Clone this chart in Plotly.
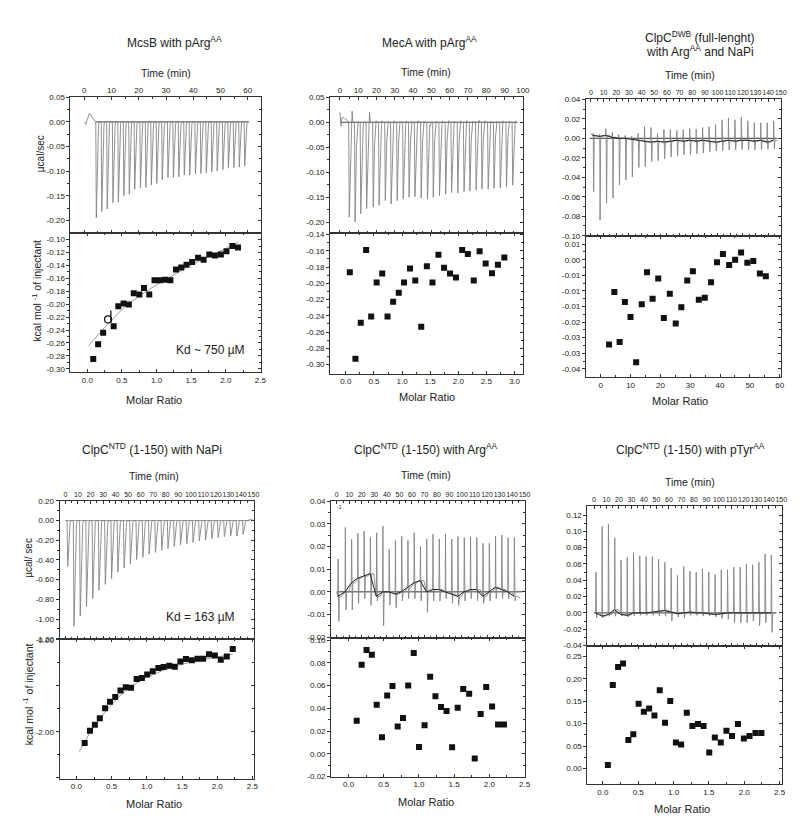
import plotly.graph_objects as go

W, H = 800, 823
FONT = "Liberation Sans, Arial, Helvetica, sans-serif"
LC = "#333333"
TC = "#222222"
SPIKE = "#858585"

# ---------------- DATA ----------------
# Panel 1 : McsB with pArgAA
p1_lead_t = [0.0, 0.5, 1.0, 1.9, 3.0, 4.0]
p1_lead_v = [0.0, -0.005, 0.004, 0.018, 0.008, 0.0]
p1_inj_t = [4.2, 6.2, 8.2, 10.3, 12.3, 14.3, 16.3, 18.3, 20.4, 22.4,
            24.4, 26.4, 28.4, 30.5, 32.5, 34.5, 36.5, 38.5, 40.6, 42.6,
            44.6, 46.6, 48.6, 50.7, 52.7, 54.7, 56.7, 58.7]
p1_peak = [-0.195, -0.182, -0.177, -0.164, -0.163, -0.150, -0.147, -0.137, -0.134, -0.133,
           -0.128, -0.125, -0.117, -0.113, -0.113, -0.112, -0.108, -0.108, -0.105, -0.105,
           -0.104, -0.102, -0.100, -0.097, -0.094, -0.093, -0.092, -0.090]
p1_tail_t = [60.2]
p1_tail_v = [0.002]
p1_base_t = [4.0, 60.5]
p1_ratio = [0.086, 0.157, 0.229, 0.381, 0.448, 0.524, 0.600, 0.671, 0.752, 0.819,
            0.895, 0.971, 1.048, 1.124, 1.200, 1.281, 1.357, 1.433, 1.514, 1.600,
            1.680, 1.762, 1.843, 1.929, 2.010, 2.095, 2.176]
p1_heat = [-0.285, -0.262, -0.244, -0.234, -0.203, -0.199, -0.2005, -0.183, -0.185, -0.175,
           -0.185, -0.163, -0.163, -0.162, -0.163, -0.1464, -0.143, -0.139, -0.1347, -0.128,
           -0.131, -0.123, -0.1245, -0.123, -0.118, -0.110, -0.112]
p1_out_ratio = [0.30]
p1_out_heat = [-0.2235]
p1_fit_ratio = [0.02, 0.25, 0.5, 0.75, 1.0, 1.25, 1.5, 1.75, 2.0, 2.18]
p1_fit_heat = [-0.264, -0.236, -0.208, -0.187, -0.170, -0.154, -0.139, -0.126, -0.114, -0.104]

# Panel 2 : MecA with pArgAA
p2_lead_t = [0.0, 0.7, 1.2, 2.5, 4.0]
p2_lead_v = [0.02, -0.008, 0.010, 0.008, 0.004]
p2_inj_t = [4.8, 8.0, 11.1, 14.3, 17.9, 21.1, 24.5, 27.7, 31.0, 34.3,
            37.5, 40.7, 44.1, 47.5, 50.7, 54.1, 57.5, 60.7, 64.1, 67.5,
            70.7, 74.1, 77.3, 80.7, 83.9, 87.3, 90.7, 94.1]
p2_peak = [-0.190, -0.200, -0.183, -0.173, -0.170, -0.166, -0.157, -0.164, -0.157, -0.154,
           -0.150, -0.149, -0.152, -0.154, -0.150, -0.147, -0.144, -0.141, -0.142, -0.139,
           -0.138, -0.136, -0.134, -0.134, -0.132, -0.132, -0.129, -0.126]
p2_after = [0.022, 0.0, 0.0, 0.020, 0.003, 0.003, 0.002, 0.003, 0.002, 0.002,
            0.002, 0.003, 0.002, -0.008, 0.002, 0.003, 0.003, 0.002, 0.003, 0.003,
            0.002, 0.004, 0.003, 0.002, 0.002, 0.003, 0.002, 0.002]
p2_tail_t = [97.0]
p2_tail_v = [0.0]
p2_base_t = [0.0, 97.0]
p2_ratio = [0.07, 0.17, 0.265, 0.36, 0.45, 0.547, 0.647, 0.741, 0.841, 0.941,
            1.035, 1.141, 1.235, 1.341, 1.441, 1.541, 1.647, 1.747, 1.853, 1.959,
            2.07, 2.17, 2.276, 2.38, 2.488, 2.6, 2.706, 2.82]
p2_heat = [-0.1864, -0.2928, -0.2485, -0.1592, -0.241, -0.199, -0.188, -0.2408, -0.2228, -0.2115,
           -0.199, -0.1819, -0.1965, -0.2536, -0.1791, -0.199, -0.165, -0.181, -0.188, -0.193,
           -0.159, -0.164, -0.1965, -0.1605, -0.1758, -0.1876, -0.1771, -0.1682]

# Panel 3 : ClpC DWB (full-length) with ArgAA and NaPi
p3_lead_t = [0.0]
p3_lead_v = [0.005]
p3_inj_t = [1.3, 6.4, 11.5, 16.6, 21.7, 26.8, 31.9, 37.0, 42.1, 47.2,
            52.3, 57.4, 62.5, 67.6, 72.7, 77.8, 82.9, 88.0, 93.1, 98.2,
            103.3, 108.4, 113.5, 118.6, 123.7, 128.8, 133.9, 139.0, 144.1]
p3_up = [0.005, 0.004, 0.010, 0.006, 0.004, 0.003, 0.002, 0.005, 0.012, 0.011,
         0.005, 0.009, 0.009, 0.008, 0.009, 0.010, 0.009, 0.011, 0.012, 0.014,
         0.019, 0.021, 0.019, 0.022, 0.018, 0.016, 0.016, 0.016, 0.018]
p3_down = [-0.0547, -0.084, -0.0665, -0.0615, -0.048, -0.043, -0.0395, -0.030, -0.029, -0.024,
           -0.023, -0.021, -0.019, -0.018, -0.017, -0.0165, -0.016, -0.015, -0.014, -0.013,
           -0.0125, -0.012, -0.012, -0.0115, -0.012, -0.012, -0.0115, -0.011, -0.011]
p3_base = [0.003, 0.002, 0.003, 0.001, 0.0, 0.0, -0.001, -0.002, -0.003, -0.004,
           -0.003, -0.004, -0.003, -0.002, -0.003, -0.002, -0.003, -0.002, -0.003, -0.004,
           -0.003, -0.002, -0.003, -0.002, -0.002, -0.003, -0.002, -0.004, -0.002]
p3_tail_t = [147.0]
p3_tail_v = [-0.002]
p3_base_t = [-1.0, 147.0]
p3_ratio = [2.77, 4.54, 6.31, 8.08, 9.96, 11.85, 13.73, 15.5, 17.38, 19.26,
            21.14, 23.14, 25.13, 27.01, 29.0, 30.89, 32.88, 34.87, 36.98, 38.97,
            40.96, 43.06, 45.06, 47.05, 49.15, 51.15, 53.36, 55.35]
p3_heat = [-0.02715, -0.01038, -0.02641, -0.01357, -0.01834, -0.03288, -0.01431, -0.00402, -0.01251, -0.00604,
           -0.01866, -0.01091, -0.02046, -0.01526, -0.00668, -0.00371, -0.01283, -0.01219, -0.00721, -0.00084,
           0.00181, -0.00170, 0.0, 0.00235, -0.00095, -0.00042, -0.00445, -0.00530]
p3_by_vals = [0.005, 0.0, -0.005, -0.010, -0.015, -0.020, -0.025, -0.030, -0.035]
p3_by_text = ["0.01", "0.00", "-0.01", "-0.01", "-0.01", "-0.02", "-0.03", "-0.03", "-0.04"]

# Panel 4 : ClpC NTD (1-150) with NaPi
p4_lead_t = [0.0]
p4_lead_v = [0.0]
p4_inj_t = [1.3, 6.3, 11.3, 16.3, 21.3, 26.3, 31.3, 36.3, 41.3, 46.3,
            51.3, 56.3, 61.3, 66.3, 71.3, 76.3, 81.3, 86.3, 91.3, 96.3,
            101.3, 106.3, 111.3, 116.3, 121.3, 126.3, 131.3, 136.3, 141.3]
p4_peak = [-0.467, -1.073, -0.967, -0.873, -0.790, -0.707, -0.647, -0.590, -0.523, -0.480,
           -0.440, -0.397, -0.373, -0.340, -0.323, -0.300, -0.283, -0.263, -0.247, -0.233,
           -0.223, -0.207, -0.197, -0.183, -0.173, -0.163, -0.157, -0.157, -0.140]
p4_tail_t = [145.5, 147.0, 150.0]
p4_tail_v = [0.0, 0.01, 0.005]
p4_base_t = [0.0, 147.0]
p4_ratio = [0.117, 0.192, 0.262, 0.332, 0.407, 0.477, 0.551, 0.626, 0.701, 0.776,
            0.855, 0.93, 1.005, 1.084, 1.164, 1.238, 1.318, 1.397, 1.477, 1.556,
            1.64, 1.72, 1.8, 1.883, 1.967, 2.051, 2.136, 2.22]
p4_heat = [-2.245, -1.978, -1.849, -1.705, -1.489, -1.345, -1.245, -1.101, -1.029, -1.043,
           -0.849, -0.827, -0.755, -0.683, -0.612, -0.590, -0.561, -0.583, -0.468, -0.417,
           -0.439, -0.410, -0.410, -0.309, -0.338, -0.432, -0.360, -0.194]
p4_fit_ratio = [0.04, 0.2, 0.4, 0.6, 0.8, 1.0, 1.25, 1.5, 1.75, 2.0, 2.22]
p4_fit_heat = [-2.43, -2.0, -1.58, -1.24, -0.99, -0.81, -0.65, -0.53, -0.44, -0.37, -0.31]

# Panel 5 : ClpC NTD (1-150) with ArgAA
p5_lead_t = [0.0]
p5_lead_v = [0.0]
p5_inj_t = [0.8, 6.6, 11.6, 16.6, 21.6, 26.6, 31.6, 36.6, 41.6, 46.6,
            51.6, 56.6, 61.6, 66.6, 71.6, 76.6, 81.6, 86.6, 91.6, 96.6,
            101.6, 106.6, 111.6, 116.6, 121.6, 126.6, 131.6, 136.6, 141.6]
p5_up = [0.0145, 0.0284, 0.0232, 0.0258, 0.0267, 0.024, 0.026, 0.029, 0.0186, 0.0226,
         0.0246, 0.0226, 0.026, 0.020, 0.0232, 0.0254, 0.0233, 0.0255, 0.0232, 0.0243,
         0.0239, 0.0243, 0.0239, 0.0214, 0.0214, 0.0246, 0.025, 0.0239, 0.0239]
p5_down = [-0.013, -0.008, -0.008, -0.005, -0.003, -0.006, -0.004, -0.015, -0.006, -0.007,
           -0.004, -0.003, -0.003, -0.004, -0.009, -0.004, -0.004, -0.003, -0.005, -0.006,
           -0.004, -0.003, -0.004, -0.005, -0.004, -0.003, -0.003, -0.003, -0.004]
p5_base = [-0.002, 0.0, 0.004, 0.006, 0.007, 0.008, -0.002, 0.0, 0.0, -0.001,
           0.0, 0.002, 0.004, 0.005, 0.0, 0.001, 0.001, 0.0, -0.001, -0.002,
           0.0, 0.001, 0.001, -0.002, 0.0, 0.002, 0.001, 0.0, -0.002]
p5_tail_t = [146.5]
p5_tail_v = [-0.003]
p5_base_t = [0.0, 148.0]
p5_ratio = [0.116, 0.186, 0.256, 0.331, 0.40, 0.475, 0.549, 0.624, 0.698, 0.773,
            0.847, 0.926, 1.001, 1.08, 1.159, 1.234, 1.313, 1.392, 1.471, 1.55,
            1.629, 1.713, 1.792, 1.876, 1.955, 2.039, 2.123, 2.207]
p5_heat = [0.0290, 0.0783, 0.0913, 0.0872, 0.0432, 0.0145, 0.0513, 0.0597, 0.0241, 0.0316,
           0.0600, 0.0887, 0.0061, 0.0252, 0.0678, 0.0507, 0.0412, 0.0377, 0.0058, 0.0406,
           0.0571, 0.0528, -0.0041, 0.0351, 0.0588, 0.0417, 0.0258, 0.0258]

# Panel 6 : ClpC NTD (1-150) with pTyrAA
p6_lead_t = [0.0]
p6_lead_v = [0.0]
p6_inj_t = [1.3, 6.3, 11.3, 16.4, 21.4, 26.4, 31.4, 36.4, 41.5, 46.5,
            51.5, 56.5, 61.5, 66.6, 71.6, 76.6, 81.6, 86.6, 91.7, 96.7,
            101.7, 106.7, 111.7, 116.8, 121.8, 126.8, 131.8, 136.8, 141.8]
p6_up = [0.050, 0.106, 0.109, 0.092, 0.065, 0.068, 0.074, 0.070, 0.069, 0.069,
         0.066, 0.062, 0.055, 0.046, 0.057, 0.051, 0.050, 0.054, 0.050, 0.047,
         0.053, 0.053, 0.056, 0.056, 0.060, 0.059, 0.062, 0.072, 0.071]
p6_down = [-0.006, -0.006, -0.004, -0.004, -0.004, -0.005, -0.004, -0.003, -0.003, -0.003,
           -0.004, -0.004, -0.010, -0.005, -0.006, -0.003, -0.003, -0.004, -0.004, -0.005,
           -0.007, -0.008, -0.012, -0.012, -0.012, -0.010, -0.016, -0.012, -0.024]
p6_base = [0.0, -0.004, -0.002, 0.004, -0.002, -0.003, 0.0, 0.0, 0.0, 0.001,
           0.002, 0.003, 0.001, -0.001, 0.0, 0.001, 0.0, 0.0, -0.001, -0.002,
           -0.001, 0.0, 0.0, 0.0, 0.0, 0.0, 0.0, 0.0, 0.0]
p6_tail_t = [146.0]
p6_tail_v = [0.0]
p6_base_t = [0.0, 146.0]
p6_ratio = [0.07, 0.14, 0.215, 0.285, 0.36, 0.43, 0.505, 0.579, 0.654, 0.729,
            0.804, 0.879, 0.953, 1.033, 1.107, 1.187, 1.266, 1.346, 1.425, 1.505,
            1.584, 1.668, 1.748, 1.827, 1.911, 1.995, 2.075, 2.159, 2.243]
p6_heat = [0.0078, 0.186, 0.2265, 0.2343, 0.0634, 0.0762, 0.1446, 0.1268, 0.1339, 0.1182,
           0.1745, 0.1019, 0.1503, 0.0577, 0.0534, 0.1246, 0.0947, 0.0990, 0.0947, 0.0356,
           0.0691, 0.0577, 0.0840, 0.0726, 0.0990, 0.0670, 0.0726, 0.0790, 0.0790]

# Tick values
t60 = [0, 10, 20, 30, 40, 50, 60]
t100 = [0, 10, 20, 30, 40, 50, 60, 70, 80, 90, 100]
t150 = [0, 10, 20, 30, 40, 50, 60, 70, 80, 90, 100, 110, 120, 130, 140, 150]
mr25 = [0.0, 0.5, 1.0, 1.5, 2.0, 2.5]
mr30 = [0.0, 0.5, 1.0, 1.5, 2.0, 2.5, 3.0]
mr60 = [0, 10, 20, 30, 40, 50, 60]

# ---------------- helpers ----------------
def fmt(v, nd):
    s = f"{v:.{nd}f}"
    if float(s) == 0:
        s = f"{0:.{nd}f}"
    return s


def mids(v):
    s = sorted(v)
    return [(s[i] + s[i + 1]) / 2 for i in range(len(s) - 1)]


def dx(a, b):
    return [a / W, b / W]


def dy(a, b):
    return [1 - b / H, 1 - a / H]


def spikes_down(lead_t, lead_v, inj_t, peak, after, interval, tail_t, tail_v):
    xs, ys = list(lead_t), list(lead_v)
    for i, t in enumerate(inj_t):
        h = peak[i]
        a = after[i] if after else 0.0
        xs += [t, t + 0.10 * interval, t + 0.33 * interval, t + 0.50 * interval,
               t + 0.58 * interval, t + 0.72 * interval]
        ys += [0.0, h, 0.25 * h, 0.04 * h, a, 0.0]
    xs += list(tail_t)
    ys += list(tail_v)
    return xs, ys


def spikes_updown(lead_t, lead_v, inj_t, up, down, base, interval, tail_t, tail_v):
    xs, ys = list(lead_t), list(lead_v)
    for i, t in enumerate(inj_t):
        b = base[i]
        xs += [t, t + 0.05 * interval, t + 0.10 * interval, t + 0.16 * interval,
               t + 0.26 * interval, t + 0.6 * interval]
        ys += [b, up[i], b, down[i], b, b]
    xs += list(tail_t)
    ys += list(tail_v)
    return xs, ys


def ref(p, i):
    return p if i == 1 else f"{p}{i}"


def lname(p, i):
    return f"{p}axis" if i == 1 else f"{p}axis{i}"


def base_axis(rng, vals, text, size, ticks="inside"):
    return dict(range=rng, tickmode="array", tickvals=vals, ticktext=text,
                showline=True, linecolor=LC, linewidth=1, showgrid=False, zeroline=False,
                ticks=ticks, ticklen=3, tickwidth=1, tickcolor=LC, tickangle=0,
                tickfont=dict(family=FONT, size=size, color=TC),
                minor=dict(tickmode="array", tickvals=mids(vals), ticks=ticks,
                           ticklen=2, tickwidth=1, tickcolor=LC))


# ---------------- panel specs ----------------
panels = [
    dict(x=(63, 255), top=(86, 223), bot=(223, 364),
         tx=[-5.1, 64.8], txv=t60, txs=8,
         ty=[-0.2248, 0.0505], tyv=[0.05, 0.0, -0.05, -0.10, -0.15, -0.20], tynd=2,
         bx=[-0.243, 2.505], bxv=mr25, bxnd=1,
         by=[-0.305, -0.089], byv=[-0.10, -0.12, -0.14, -0.16, -0.18, -0.20, -0.22, -0.24, -0.26, -0.28, -0.30], bynd=2),
    dict(x=(325, 520), top=(86, 223), bot=(223, 365.5),
         tx=[-5.3, 100.3], txv=t100, txs=8,
         ty=[-0.221, 0.0505], tyv=[0.05, 0.0, -0.05, -0.10, -0.15, -0.20], tynd=2,
         bx=[-0.28, 3.16], bxv=mr30, bxnd=1,
         by=[-0.311, -0.1376], byv=[-0.14, -0.16, -0.18, -0.20, -0.22, -0.24, -0.26, -0.28, -0.30], bynd=2),
    dict(x=(583, 780), top=(88, 226.5), bot=(226.5, 369),
         tx=[-4.0, 150.3], txv=t150, txs=7,
         ty=[-0.1003, 0.0403], tyv=[0.04, 0.02, 0.0, -0.02, -0.04, -0.06, -0.08, -0.10], tynd=2,
         bx=[-5.0, 60.5], bxv=mr60, bxnd=0,
         by=[-0.0376, 0.0076], byv=p3_by_vals, bytext=p3_by_text),
    dict(x=(52, 248), top=(494, 634), bot=(634, 775),
         tx=[-4.7, 150.3], txv=t150, txs=7,
         ty=[-1.203, 0.203], tyv=[0.2, 0.0, -0.2, -0.4, -0.6, -0.8, -1.0, -1.2], tynd=2,
         bx=[-0.24, 2.52], bxv=mr25, bxnd=1,
         by=[-3.02, 0.02], byv=[0.0, -1.0, -2.0, -3.0], bytext=["0.00", "", "-2.00", ""]),
    dict(x=(326, 521.5), top=(494, 633.3), bot=(633.3, 773.3),
         tx=[-4.5, 150.3], txv=t150, txs=7,
         ty=[-0.0205, 0.0402], tyv=[0.04, 0.03, 0.02, 0.01, 0.0, -0.01, -0.02], tynd=2,
         bx=[-0.247, 2.505], bxv=mr25, bxnd=1,
         by=[-0.0202, 0.1015], byv=[0.10, 0.08, 0.06, 0.04, 0.02, 0.0, -0.02], bynd=2),
    dict(x=(584.5, 780.5), top=(499.5, 640.7), bot=(640.7, 780.7),
         tx=[-5.3, 150.3], txv=t150, txs=7,
         ty=[-0.0402, 0.131], tyv=[0.12, 0.10, 0.08, 0.06, 0.04, 0.02, 0.0, -0.02, -0.04], tynd=2,
         bx=[-0.22, 2.53], bxv=mr25, bxnd=1,
         by=[-0.035, 0.274], byv=[0.25, 0.20, 0.15, 0.10, 0.05, 0.0], bynd=2),
]

fig = go.Figure()
layout = dict(width=W, height=H, margin=dict(l=0, r=0, t=0, b=0),
              paper_bgcolor="white", plot_bgcolor="white", showlegend=False,
              font=dict(family=FONT, color=TC))

for k, p in enumerate(panels):
    it, ib = 2 * k + 1, 2 * k + 2
    ot, ob = 13 + 2 * k, 14 + 2 * k
    ax = base_axis(p["tx"], p["txv"], [str(v) for v in p["txv"]], p["txs"])
    ax.update(domain=dx(*p["x"]), anchor=ref("y", it), side="top", mirror="ticks")
    layout[lname("x", it)] = ax
    ay = base_axis(p["ty"], p["tyv"], [fmt(v, p["tynd"]) for v in p["tyv"]], 8, ticks="outside")
    ay.update(domain=dy(*p["top"]), anchor=ref("x", it), mirror=True)
    layout[lname("y", it)] = ay
    ayr = base_axis(p["ty"], p["tyv"], [""] * len(p["tyv"]), 8)
    ayr.update(overlaying=ref("y", it), side="right", anchor=ref("x", it),
               showticklabels=False, showline=False)
    layout[lname("y", ot)] = ayr
    bxt = [fmt(v, p["bxnd"]) for v in p["bxv"]]
    bx = base_axis(p["bx"], p["bxv"], bxt, 8)
    bx.update(domain=dx(*p["x"]), anchor=ref("y", ib), side="bottom", mirror="ticks")
    layout[lname("x", ib)] = bx
    byt = p.get("bytext") or [fmt(v, p["bynd"]) for v in p["byv"]]
    by = base_axis(p["by"], p["byv"], byt, 8, ticks="outside")
    by.update(domain=dy(*p["bot"]), anchor=ref("x", ib), mirror=True)
    layout[lname("y", ib)] = by
    byr = base_axis(p["by"], p["byv"], [""] * len(p["byv"]), 8)
    byr.update(overlaying=ref("y", ib), side="right", anchor=ref("x", ib),
               showticklabels=False, showline=False)
    layout[lname("y", ob)] = byr
    fig.add_trace(go.Scatter(x=[None], y=[None], xaxis=ref("x", it), yaxis=ref("y", ot), hoverinfo="skip"))
    fig.add_trace(go.Scatter(x=[None], y=[None], xaxis=ref("x", ib), yaxis=ref("y", ob), hoverinfo="skip"))


def add_line(xs, ys, i, color, width=1.0):
    fig.add_trace(go.Scatter(x=xs, y=ys, mode="lines", line=dict(color=color, width=width),
                             xaxis=ref("x", i), yaxis=ref("y", i), hoverinfo="skip"))


def add_sq(xs, ys, i, size=6):
    fig.add_trace(go.Scatter(x=xs, y=ys, mode="markers",
                             marker=dict(symbol="square", size=size, color="#111111", line=dict(width=0)),
                             xaxis=ref("x", i), yaxis=ref("y", i), hoverinfo="skip"))


# Panel 1
add_line(p1_base_t, [0, 0], 1, "#444444", 1.0)
xs, ys = spikes_down(p1_lead_t, p1_lead_v, p1_inj_t, p1_peak, None, 2.02, p1_tail_t, p1_tail_v)
add_line(xs, ys, 1, SPIKE, 0.9)
add_line(p1_fit_ratio, p1_fit_heat, 2, "#999999", 1.0)
add_sq(p1_ratio, p1_heat, 2)
fig.add_trace(go.Scatter(x=p1_out_ratio, y=p1_out_heat, mode="markers",
                         marker=dict(symbol="circle-open", size=7, color="#111111", line=dict(width=1.2)),
                         xaxis="x2", yaxis="y2", hoverinfo="skip"))
fig.add_trace(go.Scatter(x=[r + 0.04 for r in p1_out_ratio], y=[h + 0.004 for h in p1_out_heat], mode="markers",
                         marker=dict(symbol="line-ns", size=9, color="#111111", line=dict(width=1.3, color="#111111")),
                         xaxis="x2", yaxis="y2", hoverinfo="skip"))

# Panel 2
add_line(p2_base_t, [0, 0], 3, "#444444", 1.0)
xs, ys = spikes_down(p2_lead_t, p2_lead_v, p2_inj_t, p2_peak, p2_after, 3.3, p2_tail_t, p2_tail_v)
add_line(xs, ys, 3, SPIKE, 0.9)
add_sq(p2_ratio, p2_heat, 4)

# Panel 3
add_line(p3_base_t, [0, 0], 5, "#333333", 1.0)
xs, ys = spikes_updown(p3_lead_t, p3_lead_v, p3_inj_t, p3_up, p3_down, p3_base, 5.1, p3_tail_t, p3_tail_v)
add_line(xs, ys, 5, SPIKE, 0.9)
add_line(p3_inj_t, p3_base, 5, "#222222", 1.0)
add_sq(p3_ratio, p3_heat, 6)

# Panel 4
add_line(p4_base_t, [0, 0], 7, "#999999", 1.0)
xs, ys = spikes_down(p4_lead_t, p4_lead_v, p4_inj_t, p4_peak, None, 5.0, p4_tail_t, p4_tail_v)
add_line(xs, ys, 7, SPIKE, 0.9)
add_line(p4_fit_ratio, p4_fit_heat, 8, "#999999", 1.0)
add_sq(p4_ratio, p4_heat, 8)

# Panel 5
add_line(p5_base_t, [0, 0], 9, "#333333", 1.0)
xs, ys = spikes_updown(p5_lead_t, p5_lead_v, p5_inj_t, p5_up, p5_down, p5_base, 5.0, p5_tail_t, p5_tail_v)
add_line(xs, ys, 9, SPIKE, 0.9)
add_line(p5_inj_t, p5_base, 9, "#222222", 1.0)
add_sq(p5_ratio, p5_heat, 10)

# Panel 6
add_line(p6_base_t, [0, 0], 11, "#333333", 1.0)
xs, ys = spikes_updown(p6_lead_t, p6_lead_v, p6_inj_t, p6_up, p6_down, p6_base, 5.0, p6_tail_t, p6_tail_v)
add_line(xs, ys, 11, SPIKE, 0.9)
add_line(p6_inj_t, p6_base, 11, "#222222", 1.0)
add_sq(p6_ratio, p6_heat, 12)

# ---------------- text ----------------
def ann(text, px, py, size, angle=0):
    return dict(text=text, x=px / W, y=1 - py / H, xref="paper", yref="paper",
                xanchor="center", yanchor="middle", showarrow=False, textangle=angle,
                font=dict(family=FONT, size=size, color=TC))


annots = [
    ann("McsB with pArg<sup>AA</sup>", 168, 30, 12),
    ann("MecA with pArg<sup>AA</sup>", 425, 30, 12),
    ann("ClpC<sup>DWB</sup> (full-lenght)", 698, 25, 12),
    ann("with Arg<sup>AA</sup> and NaPi", 698, 39, 12),
    ann("ClpC<sup>NTD</sup> (1-150) with NaPi", 145, 442, 12),
    ann("ClpC<sup>NTD</sup> (1-150) with Arg<sup>AA</sup>", 422, 442, 12),
    ann("ClpC<sup>NTD</sup> (1-150) with pTyr<sup>AA</sup>", 689, 442, 12),
]
for px, py in [(159, 62), (422, 61), (688, 64), (147, 469), (422, 468), (688, 475)]:
    annots.append(ann("Time (min)", px, py, 10.5))
for px, py in [(147, 392), (423, 389), (678, 393), (147, 801), (422, 799), (680, 806)]:
    annots.append(ann("Molar Ratio", px, py, 11))
annots += [
    ann("µcal/sec", 33, 143, 10, -90),
    ann("kcal mol <sup>-1</sup> of injectant", 29, 282, 10.5, -90),
    ann("µcal/ sec", 21, 552, 10, -90),
    ann("kcal mol <sup>-1</sup> of injectant", 20, 690, 10.5, -90),
    ann("Kd ~ 750 µM", 204, 342, 12),
    ann("Kd = 163 µM", 194, 612, 12),
    ann("-1", 334, 500, 5),
]
layout["annotations"] = annots

fig.update_layout(**layout)
fig.write_html("out.html")
